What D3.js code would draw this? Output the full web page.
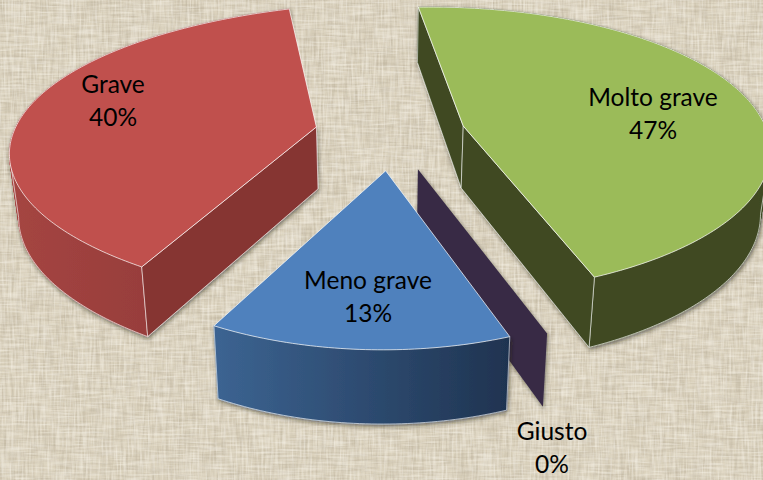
<!DOCTYPE html>
<html><head><meta charset="utf-8">
<script src="https://cdn.jsdelivr.net/npm/d3@7"></script>
<style>html,body{margin:0;padding:0;background:#dbd2bd;overflow:hidden}svg{display:block}</style>
</head><body><svg id="c" width="763" height="480"></svg>
<script>
// data
const categories = ["Molto grave","Giusto","Meno grave","Grave"];
const values = [47,0,13,40];
const percentLabels = ["47%","0%","13%","40%"];

// styles
const topColors = ["#9bbb59","#9bbb59","#4f81bd","#c0504d"];
const wallColorsA = ["#3f4a23","#372a45","#3c6492","#a54542"];
const wallColorsB = ["#3f4a23","#372a45","#1f3350","#8a3634"];
const sideColors = ["#3f4a23","#372a45","#2c4a70","#863432"];
const drawOrder = [3,0,1,2];

// layout: explosion, and the perspective ellipse each exploded slice lies on
const W=763,H=480, cx=390, cy=134, exX=75, exY=37;
const apexNudgeX=[0,5,3,0];
const ellipseOffsetX=[-33,-1,-3,93], ellipseOffsetY=[25,18,19,27];
const ellipseRx=[340,320,320,400], ellipseRy=[144,160,160,152];
const rimStartDeg=[-2,156,156.6,222];
const sweepGain=[0.905,1,1.18,0.837];
const labelCenters = [[653,98],[552,432],[368,281],[113,85]];
const lineGap = 32.5;

const svg=d3.select("#c");
const defs=svg.append("defs");

function weave(id,freq,seed,c){
  const f=defs.append("filter").attr("id",id).attr("x",0).attr("y",0).attr("width","100%").attr("height","100%");
  f.append("feTurbulence").attr("type","fractalNoise").attr("baseFrequency",freq).attr("numOctaves",2).attr("seed",seed);
  f.append("feColorMatrix").attr("type","matrix").attr("values",
    `0 0 0 0 ${c[0]} 0 0 0 0 ${c[1]} 0 0 0 0 ${c[2]} 2.6 0 0 0 -1.05`);
}
const darkThread=[0.52,0.46,0.35], lightThread=[0.96,0.93,0.86];
weave("wh","0.035 0.42",3,darkThread);
weave("wv","0.42 0.035",8,darkThread);
weave("lh","0.04 0.5",13,lightThread);
weave("lv","0.5 0.04",21,lightThread);
const sh=defs.append("filter").attr("id","shadow").attr("x","-10%").attr("y","-10%").attr("width","125%").attr("height","125%");
sh.append("feDropShadow").attr("dx",1).attr("dy",2).attr("stdDeviation",2).attr("flood-color","#1d1a10").attr("flood-opacity",.55);

const bg=svg.append("g");
bg.append("rect").attr("width",W).attr("height",H).attr("fill","#dbd2bd");
[["wh",.55],["wv",.55],["lh",.4],["lv",.4]].forEach(([id,o])=>bg.append("rect").attr("width",W).attr("height",H).attr("filter",`url(#${id})`).attr("opacity",o));

const rad=Math.PI/180;
const pie=d3.pie().sort(null).value(d=>d)
  .startAngle(-7*rad).endAngle(-7*rad+2*Math.PI);
const arcs=pie(values);
const line=d3.line();

function rim(i,apex,a){
  const t=rimStartDeg[i]*rad+sweepGain[i]*a;
  return [apex[0]+ellipseOffsetX[i]+ellipseRx[i]*Math.sin(t),
          apex[1]+ellipseOffsetY[i]-ellipseRy[i]*Math.cos(t)];
}
const below=p=>[380+(p[0]-380)*0.975, p[1]*1.055+55];
const cross=(o,a,b)=>(a[0]-o[0])*(b[1]-o[1])-(a[1]-o[1])*(b[0]-o[0]);
const edge="rgba(255,255,255,.7)";

drawOrder.forEach(i=>{
  const d=arcs[i], mid=(d.startAngle+d.endAngle)/2, span=d.endAngle-d.startAngle;
  const apex=[cx+apexNudgeX[i]+exX*Math.sin(mid), cy-exY*Math.cos(mid)];
  const n=Math.max(1,Math.ceil(span*60));
  const pts=d3.range(n+1).map(k=>rim(i,apex,span*k/n));
  const g=svg.append("g").attr("class","slice");
  const wrap=g.append("g").attr("filter","url(#shadow)");
  const first=pts[0], last=pts[pts.length-1], midRim=pts[Math.floor(n/2)];
  const xe=d3.extent(pts,p=>p[0]);
  const gid="wall"+i;
  const lg=defs.append("linearGradient").attr("id",gid).attr("gradientUnits","userSpaceOnUse")
    .attr("x1",xe[0]).attr("x2",xe[1]).attr("y1",0).attr("y2",0);
  lg.append("stop").attr("offset",0).attr("stop-color",wallColorsA[i]);
  lg.append("stop").attr("offset",1).attr("stop-color",wallColorsB[i]);
  const wallStyle=(s,fill)=>s.attr("fill",fill).attr("stroke",edge).attr("stroke-width",.8).attr("stroke-linejoin","round");
  if(span>0){
    // curved outer wall, built from small quads so its silhouette stays closed
    const quads=d3.pairs(pts).map(([a,b])=>line([a,b,below(b),below(a)])+"Z").join("");
    wrap.append("path").attr("d",quads).attr("fill",`url(#${gid})`).attr("stroke",`url(#${gid})`).attr("stroke-width",.8);
    // lower rim highlight: only the near half of the ellipse, closed up to the top rim at its extreme
    const centreY=apex[1]+ellipseOffsetY[i];
    const near=d3.range(n+1).filter(k=>pts[k][1]>=centreY);
    const lower=near.map(k=>below(pts[k]));
    if(near[0]>0) lower.unshift(pts[near[0]]);
    if(near[near.length-1]<n) lower.push(pts[near[near.length-1]]);
    wrap.append("path").attr("d",line(lower)).attr("fill","none").attr("stroke",edge).attr("stroke-width",.9);
    [first,last].forEach(p=>wrap.append("path").attr("d",line([p,below(p)])).attr("stroke",p[1]>=centreY?edge:"none").attr("stroke-width",.8));
  }
  // radial walls: only those facing the viewer
  [first,last].forEach(p=>{
    const down=[apex[0],apex[1]+1];
    const front= span===0 ? p===first : Math.sign(cross(apex,p,down))!==Math.sign(cross(apex,p,midRim));
    if(front) wrap.append("path").attr("d",line([apex,p,below(p),below(apex)])+"Z")
      .call(wallStyle,sideColors[i]).attr("stroke",span===0?"none":edge);
  });
  if(span>0){
    g.append("path").attr("d",line([apex].concat(pts))+"Z")
      .attr("fill",topColors[i]).attr("stroke",edge).attr("stroke-width",1).attr("stroke-linejoin","round");
  }
});

const t=svg.append("g").attr("font-family","Lato, 'Open Sans', sans-serif").attr("font-size",24.5).attr("fill","#000").attr("text-anchor","middle");
categories.forEach((c,i)=>{
  const [x,y]=labelCenters[i];
  t.append("text").attr("x",x).attr("y",y+8).text(c);
  t.append("text").attr("x",x).attr("y",y+8+lineGap).text(percentLabels[i]);
});
</script></body></html>
